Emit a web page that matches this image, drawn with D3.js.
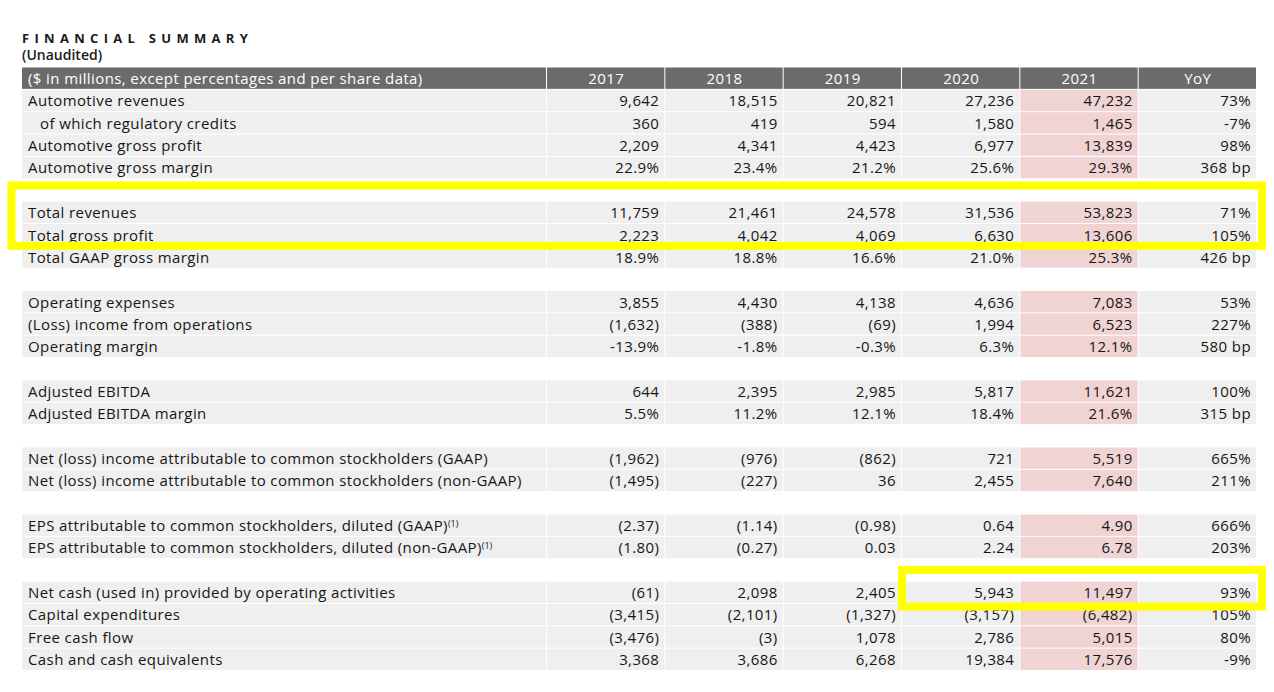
<!DOCTYPE html>
<meta charset="utf-8">
<html>
<head>
    <style>
        body {
            margin: 0;
            background: #fff;
            font-family: "Open Sans", "Noto Sans", sans-serif;
        }

        svg {
            display: block;
        }

        .title {
            font-size: 13px;
            font-weight: 700;
            letter-spacing: 5.3px;
            fill: #1a1a1a;
        }

        .subtitle {
            font-size: 14px;
            font-weight: 600;
            fill: #1a1a1a;
        }

        .head text {
            fill: #fff;
            font-size: 15px;
            letter-spacing: 0.4px;
        }

        .cell text {
            fill: #161616;
            font-size: 15px;
            letter-spacing: 0.4px;
        }
    </style>
</head>

<body>
    <script src="https://cdnjs.cloudflare.com/ajax/libs/d3/7.8.5/d3.min.js"></script>
    <script>
        // column headers
        var headLabel = "($ in millions, except percentages and per share data)";
        var columns = ["2017", "2018", "2019", "2020", "2021", "YoY"];

        // row labels, null = blank spacer row
        var labels = [
            "Automotive revenues", "of which regulatory credits", "Automotive gross profit", "Automotive gross margin", null,
            "Total revenues", "Total gross profit", "Total GAAP gross margin", null,
            "Operating expenses", "(Loss) income from operations", "Operating margin", null,
            "Adjusted EBITDA", "Adjusted EBITDA margin", null,
            "Net (loss) income attributable to common stockholders (GAAP)",
            "Net (loss) income attributable to common stockholders (non-GAAP)", null,
            "EPS attributable to common stockholders, diluted (GAAP)",
            "EPS attributable to common stockholders, diluted (non-GAAP)", null,
            "Net cash (used in) provided by operating activities", "Capital expenditures", "Free cash flow",
            "Cash and cash equivalents"
        ];
        var indented = ["of which regulatory credits"];
        var footnoted = ["EPS attributable to common stockholders, diluted (GAAP)",
            "EPS attributable to common stockholders, diluted (non-GAAP)"];

        var v2017 = ["9,642", "360", "2,209", "22.9%", null, "11,759", "2,223", "18.9%", null,
            "3,855", "(1,632)", "-13.9%", null, "644", "5.5%", null, "(1,962)", "(1,495)", null,
            "(2.37)", "(1.80)", null, "(61)", "(3,415)", "(3,476)", "3,368"];
        var v2018 = ["18,515", "419", "4,341", "23.4%", null, "21,461", "4,042", "18.8%", null,
            "4,430", "(388)", "-1.8%", null, "2,395", "11.2%", null, "(976)", "(227)", null,
            "(1.14)", "(0.27)", null, "2,098", "(2,101)", "(3)", "3,686"];
        var v2019 = ["20,821", "594", "4,423", "21.2%", null, "24,578", "4,069", "16.6%", null,
            "4,138", "(69)", "-0.3%", null, "2,985", "12.1%", null, "(862)", "36", null,
            "(0.98)", "0.03", null, "2,405", "(1,327)", "1,078", "6,268"];
        var v2020 = ["27,236", "1,580", "6,977", "25.6%", null, "31,536", "6,630", "21.0%", null,
            "4,636", "1,994", "6.3%", null, "5,817", "18.4%", null, "721", "2,455", null,
            "0.64", "2.24", null, "5,943", "(3,157)", "2,786", "19,384"];
        var v2021 = ["47,232", "1,465", "13,839", "29.3%", null, "53,823", "13,606", "25.3%", null,
            "7,083", "6,523", "12.1%", null, "11,621", "21.6%", null, "5,519", "7,640", null,
            "4.90", "6.78", null, "11,497", "(6,482)", "5,015", "17,576"];
        var yoy = ["73%", "-7%", "98%", "368 bp", null, "71%", "105%", "426 bp", null,
            "53%", "227%", "580 bp", null, "100%", "315 bp", null, "665%", "211%", null,
            "666%", "203%", null, "93%", "105%", "80%", "-9%"];

        // highlight boxes (fractional row positions, first and last column)
        var highlights = [
            { rows: [5.28, 7.98], cols: ["label", "YoY"] },
            { rows: [22.48, 24.12], cols: ["2020", "YoY"] }
        ];

        var series = [v2017, v2018, v2019, v2020, v2021, yoy];

        var width = 1274, height = 692;
        var tableLeft = 22, labelRight = 547, tableRight = 1257;
        var rowTop = 67.5, rowH = 22.35;

        var svg = d3.select("body").append("svg")
            .attr("width", width)
            .attr("height", height);

        var x = d3.scaleBand()
            .domain(columns)
            .range([labelRight, tableRight]);

        var y = d3.scaleLinear()
            .domain([0, labels.length + 1])
            .range([rowTop, rowTop + rowH * (labels.length + 1)]);

        svg.append("text")
            .attr("class", "title")
            .attr("x", tableLeft)
            .attr("y", 43)
            .text("FINANCIAL SUMMARY");

        svg.append("text")
            .attr("class", "subtitle")
            .attr("x", tableLeft)
            .attr("y", 60)
            .text("(Unaudited)");

        // header row
        var head = svg.append("g").attr("class", "head");
        head.append("rect")
            .attr("x", tableLeft).attr("y", y(0))
            .attr("width", labelRight - tableLeft - 1).attr("height", rowH - 1)
            .attr("fill", "#6b6b6b");
        head.append("text")
            .attr("x", tableLeft + 6).attr("y", y(0.5)).attr("dy", "0.36em")
            .text(headLabel);
        head.selectAll(".hc").data(columns).enter().append("rect")
            .attr("x", function (d) { return x(d); })
            .attr("y", y(0))
            .attr("width", x.bandwidth() - 1).attr("height", rowH - 1)
            .attr("fill", "#6b6b6b");
        head.selectAll(".ht").data(columns).enter().append("text")
            .attr("x", function (d) { return x(d) + x.bandwidth() / 2; })
            .attr("y", y(0.5)).attr("dy", "0.36em")
            .attr("text-anchor", "middle")
            .text(function (d) { return d; });

        // body rows
        var rows = labels.map(function (l, i) {
            return { label: l, i: i + 1, values: series.map(function (s) { return s[i]; }) };
        }).filter(function (r) { return r.label !== null; });

        var row = svg.selectAll(".cell").data(rows).enter().append("g")
            .attr("class", "cell");

        row.append("rect")
            .attr("x", tableLeft).attr("y", function (d) { return y(d.i); })
            .attr("width", labelRight - tableLeft - 1).attr("height", rowH - 1)
            .attr("fill", "#efefef");

        var lab = row.append("text")
            .attr("x", function (d) { return tableLeft + (indented.indexOf(d.label) >= 0 ? 18 : 6); })
            .attr("y", function (d) { return y(d.i + 0.5); })
            .attr("dy", "0.36em");
        lab.append("tspan").text(function (d) { return d.label; });
        lab.filter(function (d) { return footnoted.indexOf(d.label) >= 0; })
            .append("tspan")
            .attr("dy", "-0.45em")
            .style("font-size", "9px")
            .style("letter-spacing", "0")
            .text("(1)");

        row.selectAll(".v").data(function (d) {
            return d.values.map(function (v, j) { return { v: v, col: columns[j], i: d.i }; });
        }).enter().append("rect")
            .attr("x", function (d) { return x(d.col); })
            .attr("y", function (d) { return y(d.i); })
            .attr("width", x.bandwidth() - 1).attr("height", rowH - 1)
            .attr("fill", function (d) { return d.col === "2021" ? "#f0d3d3" : "#efefef"; });

        row.selectAll(".t").data(function (d) {
            return d.values.map(function (v, j) { return { v: v, col: columns[j], i: d.i }; });
        }).enter().append("text")
            .attr("x", function (d) { return x(d.col) + x.bandwidth() - 6; })
            .attr("y", function (d) { return y(d.i + 0.5); })
            .attr("dy", "0.36em")
            .attr("text-anchor", "end")
            .text(function (d) { return d.v; });

        // yellow highlight boxes
        svg.selectAll(".hl").data(highlights).enter().append("rect")
            .attr("x", function (d) { return d.cols[0] === "label" ? tableLeft - 10.5 : x(d.cols[0]); })
            .attr("y", function (d) { return y(d.rows[0]); })
            .attr("width", function (d) {
                var x0 = d.cols[0] === "label" ? tableLeft - 10.5 : x(d.cols[0]);
                return x(d.cols[1]) + x.bandwidth() + 5 - x0;
            })
            .attr("height", function (d) { return y(d.rows[1]) - y(d.rows[0]); })
            .attr("fill", "none")
            .attr("stroke", "#ffff00")
            .attr("stroke-width", 8);
    </script>
</body>
</html>
